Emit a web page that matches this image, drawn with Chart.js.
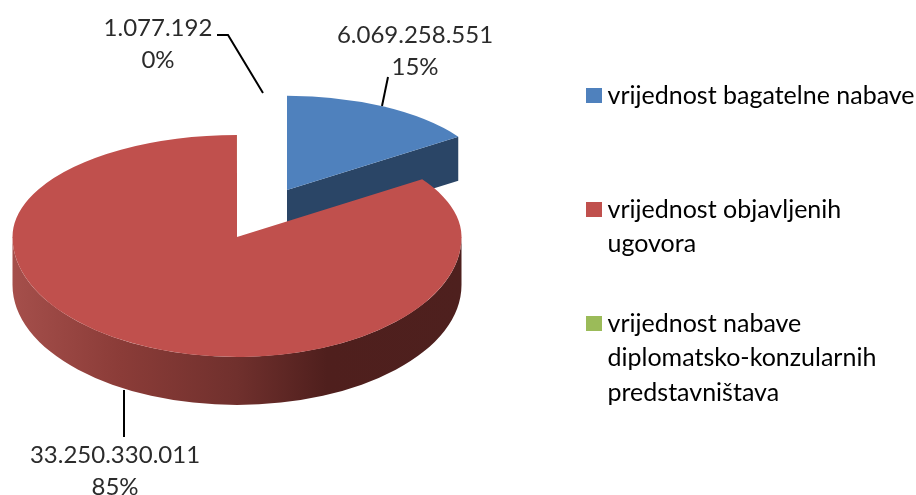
<!DOCTYPE html>
<html lang="en">
<head>
    <meta charset="UTF-8">
    <title>Vrijednost nabave</title>
    <script src="https://cdn.jsdelivr.net/npm/chart.js"></script>
    <style>
        body { margin: 0; background: #fff; }
        canvas { display: block; }
    </style>
</head>
<body>
    <canvas id="pieChart" width="916" height="495"></canvas>
    <script>
        // Data
        const categories = [
            ['vrijednost bagatelne nabave'],
            ['vrijednost objavljenih', 'ugovora'],
            ['vrijednost nabave', 'diplomatsko-konzularnih', 'predstavništava']
        ];
        const values = [6069258551, 33250330011, 1077192];
        const colors = ['#4f81bd', '#c0504d', '#9bbb59'];

        const total = values.reduce((a, b) => a + b, 0);
        const formatValue = v => String(v).replace(/\B(?=(\d{3})+$)/g, '.');
        const formatShare = v => Math.round(v / total * 100) + '%';

        // 3D look: chart.js lays out the arcs, this maps them on the tilted view
        const tiltBack = 0.454;
        const tiltFront = 0.534;
        const slices = [
            { x: 287, y: 190, k: 0.925, depth: 44, side: '#2a4566' },
            { x: 237, y: 237, k: 1, depth: 48 },
            { x: 237, y: 237, k: 1, depth: 48 }
        ];

        // label text centre, leader line
        const labelSpots = [
            { x: 415, y: 35, line: [[388, 77], [382, 106]] },
            { x: 115, y: 455, line: [[124, 390], [124, 437]] },
            { x: 158, y: 28, line: [[217, 35], [228, 35], [263, 93]] }
        ];

        function placeArc(ctx, el, s, tilt) {
            ctx.translate(s.x, s.y);
            ctx.scale(s.k, s.k * tilt);
            ctx.translate(-el.x, -el.y);
        }

        function drawBlueSide(ctx, el, s) {
            const tipX = s.x + el.outerRadius * s.k * Math.cos(el.endAngle);
            const tipY = s.y + el.outerRadius * s.k * tiltBack * Math.sin(el.endAngle);
            ctx.fillStyle = s.side;
            ctx.beginPath();
            ctx.moveTo(s.x, s.y);
            ctx.lineTo(tipX, tipY);
            ctx.lineTo(tipX, tipY + s.depth);
            ctx.lineTo(s.x, s.y + s.depth);
            ctx.closePath();
            ctx.fill();
        }

        function drawRedSide(ctx, el, s) {
            const r = el.outerRadius;
            const ry = r * tiltFront;
            const grad = ctx.createLinearGradient(s.x - r, 0, s.x + r, 0);
            grad.addColorStop(0, '#a54f4b');
            grad.addColorStop(0.24, '#8b3c38');
            grad.addColorStop(0.5, '#70302d');
            grad.addColorStop(0.7, '#4f1f1d');
            grad.addColorStop(1, '#4e201e');
            ctx.fillStyle = grad;
            ctx.beginPath();
            ctx.ellipse(s.x, s.y, r, ry, 0, 0, Math.PI);
            ctx.ellipse(s.x, s.y + s.depth, r, ry, 0, Math.PI, 0, true);
            ctx.closePath();
            ctx.fill();
        }

        function drawTopFace(ctx, el, s) {
            // far half is flatter than the near half
            ctx.save();
            ctx.beginPath();
            ctx.rect(0, 0, 916, s.y + 0.5);
            ctx.clip();
            placeArc(ctx, el, s, tiltBack);
            el.draw(ctx);
            ctx.restore();

            ctx.save();
            ctx.beginPath();
            ctx.rect(0, s.y, 916, 495);
            ctx.clip();
            placeArc(ctx, el, s, tiltFront);
            el.draw(ctx);
            ctx.restore();
        }

        const pie3d = {
            id: 'pie3d',
            afterLayout(chart) {
                chart.legend.left = 548;
                chart.legend.top = 38;
            },
            beforeDatasetsDraw(chart) {
                const ctx = chart.ctx;
                const arcs = chart.getDatasetMeta(0).data;
                drawBlueSide(ctx, arcs[0], slices[0]);
                drawTopFace(ctx, arcs[0], slices[0]);
                drawRedSide(ctx, arcs[1], slices[1]);
                drawTopFace(ctx, arcs[1], slices[1]);
                drawTopFace(ctx, arcs[2], slices[2]);
                return false;
            },
            afterDraw(chart) {
                const ctx = chart.ctx;
                ctx.save();
                ctx.strokeStyle = '#000';
                ctx.lineWidth = 2;
                ctx.fillStyle = '#2b2b2b';
                ctx.font = '24px Lato';
                ctx.textAlign = 'center';
                ctx.textBaseline = 'middle';
                values.forEach((v, i) => {
                    const spot = labelSpots[i];
                    ctx.beginPath();
                    spot.line.forEach((p, n) => n ? ctx.lineTo(p[0], p[1]) : ctx.moveTo(p[0], p[1]));
                    ctx.stroke();
                    ctx.fillText(formatValue(v), spot.x, spot.y);
                    ctx.fillText(formatShare(v), spot.x, spot.y + 32);
                });
                ctx.restore();
            }
        };

        new Chart(document.getElementById('pieChart'), {
            type: 'pie',
            data: {
                labels: categories,
                datasets: [{
                    data: values,
                    backgroundColor: colors,
                    borderWidth: 0
                }]
            },
            plugins: [pie3d],
            options: {
                responsive: false,
                animation: false,
                radius: 224.5,
                plugins: {
                    tooltip: { enabled: false },
                    legend: {
                        position: 'right',
                        align: 'start',
                        labels: {
                            color: '#2b2b2b',
                            font: { family: 'Lato', size: 25, lineHeight: 34.5 / 25 },
                            padding: 45,
                            // thin box + wide stroke keeps the text close to the square
                            boxWidth: 2,
                            boxHeight: 1,
                            generateLabels(chart) {
                                return chart.data.labels.map((lines, i) => ({
                                    // every entry takes at least two lines of height
                                    text: lines.length < 2 ? [...lines, ''] : lines,
                                    fillStyle: colors[i],
                                    strokeStyle: colors[i],
                                    lineWidth: 14,
                                    index: i
                                }));
                            }
                        }
                    }
                }
            }
        });
    </script>
</body>
</html>
